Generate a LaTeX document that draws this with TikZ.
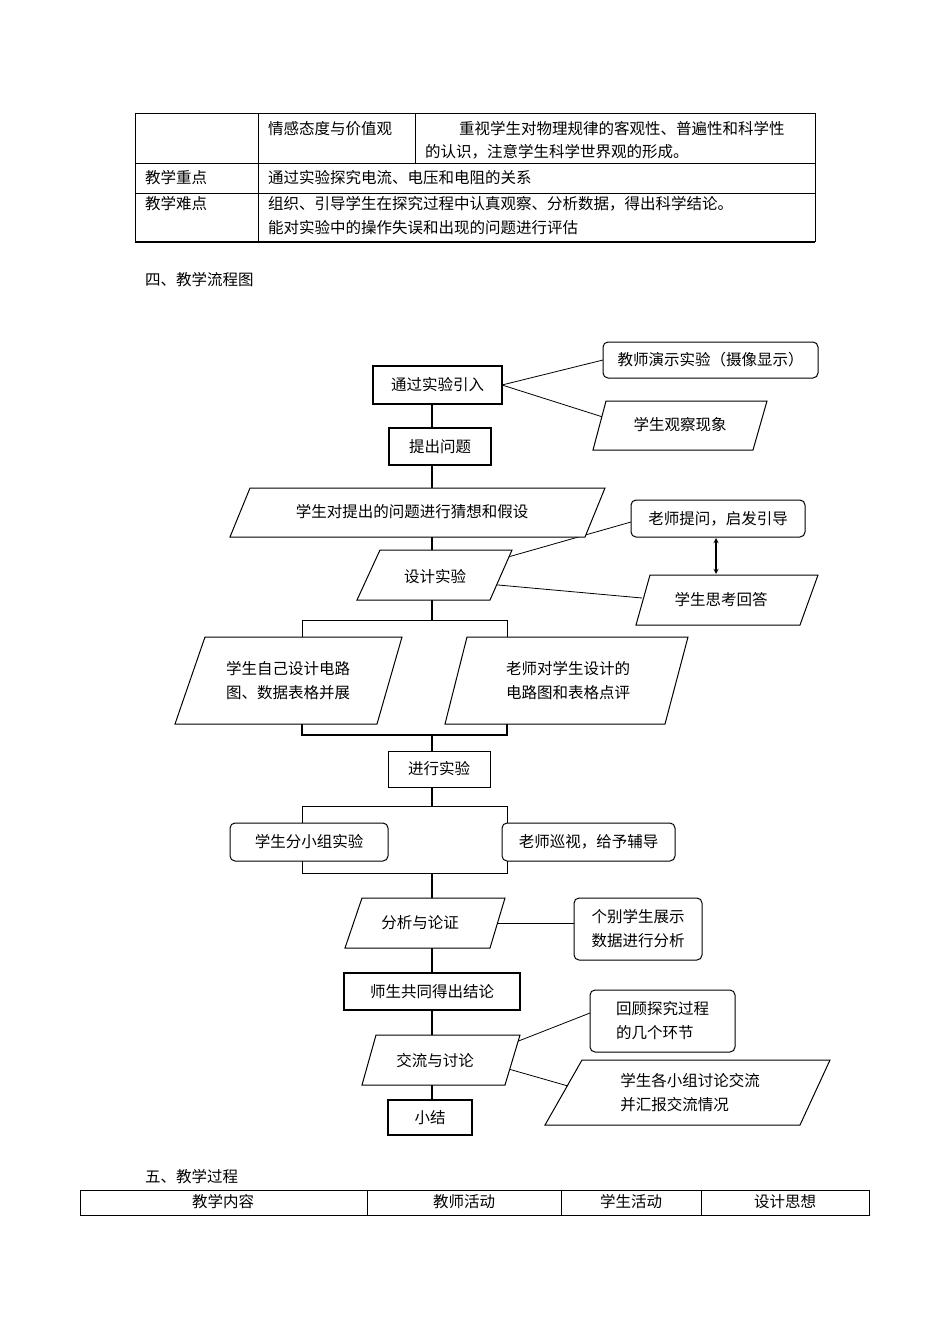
\documentclass[tikz,border=0pt]{standalone}
\usepackage{fontspec}
\newfontfamily\cjk{Noto Sans CJK SC}
\begin{document}
\begin{tikzpicture}[x=1pt,y=-1pt,
  every node/.style={font=\cjk\fontsize{15.5}{24}\selectfont, inner sep=0pt},
  bx/.style={draw, line width=1pt},
  tbx/.style={draw, line width=1.6pt},
  rbx/.style={draw, line width=1pt, rounded corners=5pt},
  ln/.style={line width=0.8pt},
  ml/.style={line width=1.2pt},
  tl/.style={line width=1pt}]
\useasboundingbox (0,0) rectangle (950,1344);
% top table
\draw[tl] (135,113) -- (815,113) (135,163) -- (815,163) (135,193) -- (815,193);
\draw[line width=1.4pt] (135,242) -- (815,242);
\draw[tl] (135,113) -- (135,242) (815,113) -- (815,242) (258,113) -- (258,242) (415,113) -- (415,163);
\node[anchor=west] (t1) at (268,129) {情感态度与价值观};
\node[anchor=west] (t2) at (459,129) {重视学生对物理规律的客观性、普遍性和科学性};
\node[anchor=west] (t3) at (425,152) {的认识，注意学生科学世界观的形成。};
\node[anchor=west] (t4) at (145,178) {教学重点};
\node[anchor=west] (t5) at (268,178) {通过实验探究电流、电压和电阻的关系};
\node[anchor=west] (t6) at (145,204) {教学难点};
\node[anchor=west] (t7) at (268,204) {组织、引导学生在探究过程中认真观察、分析数据，得出科学结论。};
\node[anchor=west] (t8) at (268,228) {能对实验中的操作失误和出现的问题进行评估};
\node[anchor=west] (h4) at (145,280) {四、教学流程图};
% main vertical
\draw[ml] (432,385) -- (432,620);
\draw[ml] (432,735) -- (432,806);
\draw[ml] (432,873) -- (432,1100);
% branches
\draw[tl] (302,637) -- (302,620) -- (507,620) -- (507,637);
\draw[line width=1.6pt] (302,724) -- (302,735) -- (507,735) -- (507,724);
\draw[tl] (302,823) -- (302,806) -- (507,806) -- (507,823);
\draw[tl] (302,861) -- (302,873) -- (507,873) -- (507,861);
% side connectors
\draw[ln] (502,385) -- (603,360);
\draw[ln] (502,385) -- (606,418);
\draw[ln] (480,565) -- (631,522);
\draw[ln] (465,582) -- (642,598);
\draw[line width=1.3pt,<->,>=stealth] (716,538) -- (716,574);
\draw[ln] (490,923) -- (574,923);
\draw[ln] (516,1042) -- (590,1013);
\draw[ln] (505,1068) -- (582,1090);
% rect boxes
\node[tbx,fill=white,minimum width=129pt,minimum height=38pt] (a) at (437.5,385) {通过实验引入};
\node[tbx,fill=white,minimum width=102pt,minimum height=37pt] (b) at (440,446.5) {提出问题};
\node[bx,fill=white,minimum width=102pt,minimum height=36pt] (g) at (439,769) {进行实验};
\node[tbx,fill=white,minimum width=176pt,minimum height=37pt] (j) at (432,991.5) {师生共同得出结论};
\node[tbx,fill=white,minimum width=84pt,minimum height=35pt] (m) at (430,1117.5) {小结};
% rounded
\node[rbx,fill=white,minimum width=215pt,minimum height=36pt] (r1) at (710.5,360) {教师演示实验（摄像显示）};
\node[rbx,fill=white,minimum width=174pt,minimum height=37pt] (r2) at (718,518.5) {老师提问，启发引导};
\node[rbx,fill=white,minimum width=158pt,minimum height=38pt] (r3) at (309,842) {学生分小组实验};
\node[rbx,fill=white,minimum width=173pt,minimum height=38pt] (r4) at (588.5,842) {老师巡视，给予辅导};
\node[rbx,fill=white,minimum width=128pt,minimum height=62pt,align=left] (r5) at (638,929) {个别学生展示\\数据进行分析};
\node[rbx,fill=white,minimum width=145pt,minimum height=62pt,align=left] (r6) at (662.5,1021) {回顾探究过程\\的几个环节};
% parallelograms
\filldraw[tl,fill=white] (606,401) -- (767,401) -- (753,450) -- (593,450) -- cycle;
\node (p1) at (680,425) {学生观察现象};
\filldraw[tl,fill=white] (250,488) -- (605,488) -- (585,537) -- (230,537) -- cycle;
\node (p2) at (412,512) {学生对提出的问题进行猜想和假设};
\filldraw[tl,fill=white] (380,550) -- (512,550) -- (490,600) -- (357,600) -- cycle;
\node (p3) at (435,577) {设计实验};
\filldraw[tl,fill=white] (650,575) -- (818,575) -- (800,625) -- (636,625) -- cycle;
\node (p4) at (721,600) {学生思考回答};
\filldraw[tl,fill=white] (205,637) -- (402,637) -- (377,724) -- (175,724) -- cycle;
\node[align=left] (p5) at (288,681) {学生自己设计电路\\图、数据表格并展};
\filldraw[tl,fill=white] (467,637) -- (688,637) -- (665,724) -- (445,724) -- cycle;
\node[align=left] (p6) at (568,681) {老师对学生设计的\\电路图和表格点评};
\filldraw[tl,fill=white] (362,898) -- (505,898) -- (490,948) -- (345,948) -- cycle;
\node (p7) at (420,923) {分析与论证};
\filldraw[tl,fill=white] (376,1035) -- (520,1035) -- (505,1085) -- (362,1085) -- cycle;
\node (p8) at (435,1061) {交流与讨论};
\filldraw[tl,fill=white] (582,1060) -- (830,1060) -- (800,1125) -- (545,1125) -- cycle;
\node[align=left] (p9) at (690,1093) {学生各小组讨论交流\\并汇报交流情况};
% bottom
\node[anchor=west] (h5) at (145,1177) {五、教学过程};
\draw[tl] (80,1190) rectangle (869,1215);
\draw[tl] (367,1190) -- (367,1215) (561,1190) -- (561,1215) (701,1190) -- (701,1215);
\node (c1) at (223,1202) {教学内容};
\node (c2) at (464,1202) {教师活动};
\node (c3) at (631,1202) {学生活动};
\node (c4) at (785,1202) {设计思想};
\end{tikzpicture}
\end{document}
